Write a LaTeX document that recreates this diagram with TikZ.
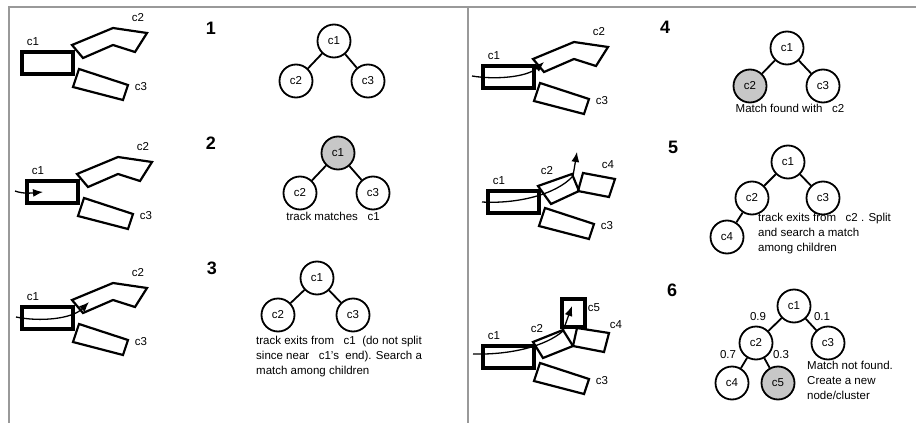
\documentclass[tikz,border=0pt]{standalone}
\usepackage{fontspec}
\setmainfont{Liberation Sans}
\usetikzlibrary{arrows.meta}

\tikzset{
  cnode/.style={circle,draw,line width=1.8pt,minimum size=33pt,inner sep=0pt,font=\fontsize{11.5}{12}\selectfont},
  cfound/.style={cnode,fill=black!22},
  link/.style={line width=1.8pt},
  blob/.style={line width=2.2pt,line join=miter},
  cur/.style={line width=3.2pt},
  trk/.style={line width=1.3pt,-{Latex[length=10pt,width=8pt]}},
  lbl/.style={font=\fontsize{11.5}{12}\selectfont,inner sep=0pt},
  note/.style={font=\fontsize{11.5}{15}\selectfont,inner sep=0pt,align=left,anchor=north west},
  num/.style={font=\fontsize{18}{18}\selectfont\bfseries,inner sep=0pt},
  frame/.style={draw=black!40,line width=1.5pt}
}

% c1 and c3, the same in every panel
\newcommand{\clusbase}[1]{%
  \draw[cur] (22,52) rectangle (73,74);
  \node[lbl] (#1c1) at (33,42) {c1};
  \draw[blob] (79,69) -- (128,85) -- (123,100) -- (73,87) -- cycle;
  \node[lbl] (#1c3) at (141,87) {c3};
}
% the bent c2 (panels 1-4)
\newcommand{\clusbend}[1]{%
  \draw[blob] (72,45) -- (113,28) -- (147,33) -- (135,52) -- (113,45) -- (83,58) -- cycle;
  \node[lbl] (#1c2) at (138,18) {c2};
}

\begin{document}
\begin{tikzpicture}[x=1pt,y=-1pt]
  \useasboundingbox (0,0) rectangle (916,423);
  \draw[frame] (9,423) -- (9,7) -- (916,7);
  \draw[frame] (468,7) -- (468,423);

  % ---- left column: clusters in the image ----
  \begin{scope}
    \clusbase{a}
    \clusbend{a}
  \end{scope}
  \begin{scope}[shift={(5,129)}]
    \clusbase{b}
    \clusbend{b}
    \draw[trk] (10,62) .. controls (18,65) and (27,64) .. (38,63);
  \end{scope}
  \begin{scope}[shift={(0,255)}]
    \clusbase{c}
    \clusbend{c}
    \draw[trk] (16,62) .. controls (40,67) and (72,64) .. (89,47);
  \end{scope}

  % ---- right column ----
  \begin{scope}[shift={(461,14)}]
    \clusbase{d}
    \clusbend{d}
    \draw[trk] (11,62) .. controls (35,66) and (66,63) .. (83,48);
  \end{scope}
  \begin{scope}[shift={(466,139)}]
    \clusbase{e}
    \draw[blob] (72,47) -- (106,35) -- (113,52) -- (85,65) -- cycle;
    \node[lbl] (ec2) at (81,32) {c2};
    \draw[blob] (117,34) -- (149,40) -- (143,58) -- (112,52) -- cycle;
    \node[lbl] (ec4) at (142,26) {c4};
    \draw[trk] (16,63) .. controls (50,65) and (90,56) .. (107,37) -- (111,13);
  \end{scope}
  \begin{scope}[shift={(461,294)}]
    \clusbase{f}
    \draw[blob] (72,48) -- (102,36) -- (112,52) -- (82,64) -- cycle;
    \node[lbl] (fc2) at (76,35) {c2};
    \draw[blob] (116,34) -- (148,39) -- (143,58) -- (112,52) -- cycle;
    \node[lbl] (fc4) at (155,31) {c4};
    \draw[cur] (101,5) rectangle (124,33);
    \node[lbl] (fc5) at (133,14) {c5};
    \draw[trk] (12,60) .. controls (50,61) and (85,52) .. (102,37) -- (111,12);
  \end{scope}

  % ---- step numbers ----
  \node[num] (n1) at (211,28) {1};
  \node[num] (n2) at (211,143) {2};
  \node[num] (n3) at (212,268) {3};
  \node[num] (n4) at (665,27) {4};
  \node[num] (n5) at (673,147) {5};
  \node[num] (n6) at (672,290) {6};

  % ---- trees ----
  \node[cnode] (t1a) at (334,41) {c1};
  \node[cnode] (t1b) at (296,81) {c2};
  \node[cnode] (t1c) at (368,81) {c3};
  \draw[link] (t1a) -- (t1b);
  \draw[link] (t1a) -- (t1c);

  \node[cfound] (t2a) at (338,153) {c1};
  \node[cnode] (t2b) at (300,193) {c2};
  \node[cnode] (t2c) at (373,193) {c3};
  \draw[link] (t2a) -- (t2b);
  \draw[link] (t2a) -- (t2c);
  \node[lbl] (t2txt) at (333,216) {track matches~~~c1};

  \node[cnode] (t3a) at (317,278) {c1};
  \node[cnode] (t3b) at (278,315) {c2};
  \node[cnode] (t3c) at (353,315) {c3};
  \draw[link] (t3a) -- (t3b);
  \draw[link] (t3a) -- (t3c);
  \node[note] (t3txt) at (256,336) {track exits from~~~c1~~(do not split\\since near~~~c1's~~end). Search a\\match among children};

  \node[cnode] (t4a) at (787,48) {c1};
  \node[cfound] (t4b) at (750,86) {c2};
  \node[cnode] (t4c) at (823,86) {c3};
  \draw[link] (t4a) -- (t4b);
  \draw[link] (t4a) -- (t4c);
  \node[lbl] (t4txt) at (790,108) {Match found with~~~c2};

  \node[cnode] (t5a) at (788,162) {c1};
  \node[cnode] (t5b) at (752,198) {c2};
  \node[cnode] (t5c) at (823,198) {c3};
  \node[cnode] (t5d) at (727,237) {c4};
  \draw[link] (t5a) -- (t5b);
  \draw[link] (t5a) -- (t5c);
  \draw[link] (t5b) -- (t5d);
  \node[note] (t5txt) at (758,213) {track exits from~~~c2 . Split\\and search a match\\among children};

  \node[cnode] (t6a) at (794,306) {c1};
  \node[cnode] (t6b) at (756,343) {c2};
  \node[cnode] (t6c) at (828,343) {c3};
  \node[cnode] (t6d) at (732,383) {c4};
  \node[cfound] (t6e) at (778,383) {c5};
  \draw[link] (t6a) -- (t6b);
  \draw[link] (t6a) -- (t6c);
  \draw[link] (t6b) -- (t6d);
  \draw[link] (t6b) -- (t6e);
  \node[lbl] (w1) at (758,317) {0.9};
  \node[lbl] (w2) at (822,317) {0.1};
  \node[lbl] (w3) at (728,355) {0.7};
  \node[lbl] (w4) at (781,355) {0.3};
  \node[note] (t6txt) at (807,361) {Match not found.\\Create a new\\node/cluster};
\end{tikzpicture}
\end{document}
